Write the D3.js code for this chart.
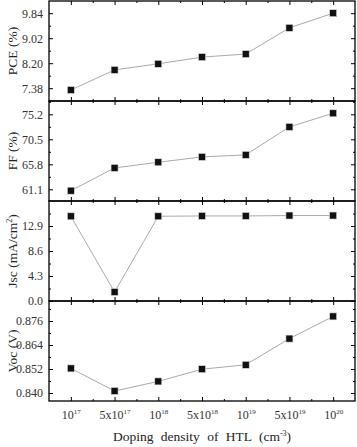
<!DOCTYPE html>
<html>
<head>
<meta charset="utf-8">
<script src="https://cdn.jsdelivr.net/npm/d3@7"></script>
<style>
    body { margin: 0; background: #fff; }
    svg { display: block; font-family: "Liberation Serif", "Times New Roman", serif; }
</style>
</head>
<body>
<div class="chart"></div>
<script>
// doping density of the HTL (base, exponent)
const dopingLabels = [['10', '17'], ['5x10', '17'], ['10', '18'], ['5x10', '18'], ['10', '19'], ['5x10', '19'], ['10', '20']]

const pceValues = [7.32, 7.98, 8.18, 8.40, 8.50, 9.36, 9.84]
const ffValues = [60.84, 65.12, 66.18, 67.19, 67.57, 72.83, 75.39]
const jscValues = [14.57, 1.55, 14.57, 14.63, 14.63, 14.70, 14.70]
const vocValues = [0.8523, 0.8410, 0.8458, 0.8519, 0.8541, 0.8672, 0.8783]

const pceTicks = [7.38, 8.20, 9.02, 9.84]
const ffTicks = [61.1, 65.8, 70.5, 75.2]
const jscTicks = [0.0, 4.3, 8.6, 12.9]
const vocTicks = [0.840, 0.852, 0.864, 0.876]

const panels = [
    {title: 'PCE (%)', values: pceValues, ticks: pceTicks, domain: [6.96, 10.24], fmt: '.2f'},
    {title: 'FF (%)', values: ffValues, ticks: ffTicks, domain: [58.9, 77.7], fmt: '.1f'},
    {title: 'Jsc (mA/cm', sup: '2', tail: ')', values: jscValues, ticks: jscTicks, domain: [0, 17.2], fmt: '.1f'},
    {title: 'Voc (V)', values: vocValues, ticks: vocTicks, domain: [0.836, 0.886], fmt: '.3f'}
]

const fullWidth = 357
const fullHeight = 447
const margin = {top: 1, right: 2, left: 49}
const width = fullWidth - margin.left - margin.right
const panelHeight = 100

const svg = d3.select('.chart')
    .append('svg')
    .attr('width', fullWidth)
    .attr('height', fullHeight)

const xScale = d3.scaleLinear()
    .domain([-0.5, dopingLabels.length - 0.5])
    .range([0, width])

const majorX = d3.range(dopingLabels.length)
const minorX = majorX.slice(1).map(d => d - 0.5)

// minor ticks sit half way between the majors
function minorOf(ticks, domain) {
    let step = ticks[1] - ticks[0]
    let out = []
    for (let v = ticks[0] - step / 2; v <= domain[1] + 1e-9; v += step) {
        if (v >= domain[0] - 1e-9) out.push(v)
    }
    return out
}

function styleAxis(g) {
    g.select('.domain').remove()
    g.selectAll('line').attr('stroke', '#000').attr('stroke-width', 1)
    g.selectAll('text')
        .attr('fill', '#333')
        .style('font-size', '12px')
        .style('font-family', '"Liberation Serif", serif')
}

panels.forEach((p, i) => {
    let g = svg.append('g')
        .attr('transform', `translate(${margin.left}, ${margin.top + i * panelHeight})`)

    let yScale = d3.scaleLinear().domain(p.domain).range([panelHeight, 0])
    let minorY = minorOf(p.ticks, p.domain)

    // y axes, ticks pointing in on both sides
    g.append('g')
        .call(d3.axisLeft(yScale).tickValues(p.ticks).tickSize(-4).tickPadding(6).tickFormat(d3.format(p.fmt)))
        .call(styleAxis)
    g.append('g')
        .call(d3.axisLeft(yScale).tickValues(minorY).tickSize(-2).tickFormat(''))
        .call(styleAxis)
    g.append('g')
        .attr('transform', `translate(${width}, 0)`)
        .call(d3.axisRight(yScale).tickValues(p.ticks).tickSize(-4).tickFormat(''))
        .call(styleAxis)
    g.append('g')
        .attr('transform', `translate(${width}, 0)`)
        .call(d3.axisRight(yScale).tickValues(minorY).tickSize(-2).tickFormat(''))
        .call(styleAxis)

    // x ticks, top and bottom of each panel
    g.append('g')
        .call(d3.axisTop(xScale).tickValues(majorX).tickSize(-4).tickFormat(''))
        .call(styleAxis)
    g.append('g')
        .call(d3.axisTop(xScale).tickValues(minorX).tickSize(-2).tickFormat(''))
        .call(styleAxis)
    let bottom = g.append('g')
        .attr('transform', `translate(0, ${panelHeight})`)
        .call(d3.axisBottom(xScale).tickValues(majorX).tickSize(-4).tickPadding(9).tickFormat(''))
        .call(styleAxis)
    g.append('g')
        .attr('transform', `translate(0, ${panelHeight})`)
        .call(d3.axisBottom(xScale).tickValues(minorX).tickSize(-2).tickFormat(''))
        .call(styleAxis)

    if (i === panels.length - 1) {
        bottom.selectAll('.tick text').each(function(d) {
            let t = d3.select(this)
            t.append('tspan').text(dopingLabels[d][0])
            t.append('tspan').attr('dy', '-5').style('font-size', '7px').text(dopingLabels[d][1])
        })
    }

    g.append('rect')
        .attr('width', width)
        .attr('height', panelHeight)
        .attr('fill', 'none')
        .attr('stroke', '#000')
        .attr('stroke-width', 1.3)

    let line = d3.line()
        .x((d, j) => xScale(j))
        .y(d => yScale(d))

    g.append('path')
        .attr('d', line(p.values))
        .attr('fill', 'none')
        .attr('stroke', '#aaa')
        .attr('stroke-width', 1)

    g.selectAll('.pt')
        .data(p.values)
        .join('rect')
            .attr('class', 'pt')
            .attr('x', (d, j) => xScale(j) - 3.5)
            .attr('y', d => yScale(d) - 3.5)
            .attr('width', 7)
            .attr('height', 7)
            .attr('fill', '#111')
            .attr('stroke', '#ddd')
            .attr('stroke-width', 0.6)

    let title = svg.append('text')
        .attr('transform', `translate(17, ${margin.top + i * panelHeight + panelHeight / 2}) rotate(-90)`)
        .attr('text-anchor', 'middle')
        .attr('fill', '#222')
        .style('font-size', '13.5px')
    title.append('tspan').text(p.title)
    if (p.sup) {
        title.append('tspan').attr('dy', '-5').style('font-size', '8px').text(p.sup)
        title.append('tspan').attr('dy', '5').text(p.tail)
    }
})

// x axis title
let xTitle = svg.append('text')
    .attr('x', margin.left + width / 2)
    .attr('y', 441)
    .attr('text-anchor', 'middle')
    .attr('fill', '#222')
    .style('font-size', '13.5px')
    .style('word-spacing', '4px')
xTitle.append('tspan').text('Doping density of HTL (cm')
xTitle.append('tspan').attr('dy', '-5').style('font-size', '8px').text('-3')
xTitle.append('tspan').attr('dy', '5').text(')')
</script>
</body>
</html>
